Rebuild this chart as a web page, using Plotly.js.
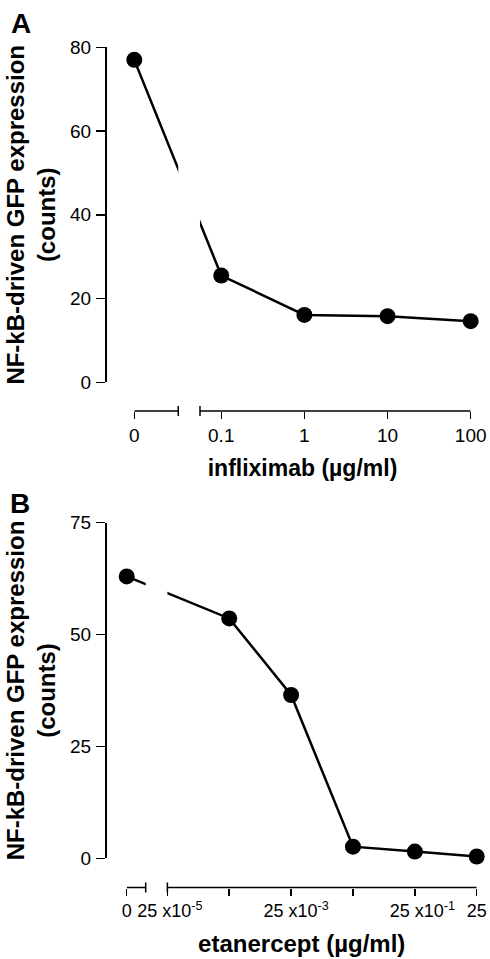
<!DOCTYPE html>
<html>
<head>
<meta charset="utf-8">
<script src="https://cdn.plot.ly/plotly-3.0.1.min.js"></script>
<style>html,body{margin:0;padding:0;background:#fff;}</style>
</head>
<body>
<div id="chart" style="width:490px;height:959px;"></div>
<script>
// ---- Data ----
const infliximabConc = [0, 0.1, 1, 10, 100];          // µg/ml
const infliximabGFP  = [77, 25.5, 16.1, 15.8, 14.6];  // counts
const etanerceptConc = [0, 0.0025, 0.025, 0.25, 2.5, 25]; // µg/ml
const etanerceptGFP  = [63, 53.6, 36.5, 2.6, 1.5, 0.4];   // counts

// tick labels
const tickValsA = [0, 0.1, 1, 10, 100];
const tickTextA = ["0", "0.1", "1", "10", "100"];
const tickValsB = [0, 0.00025, 0.025, 2.5, 25];
const tickTextB = ["0", "\u00a025 x10<sup>-5</sup>", "\u00a0\u00a025 x10<sup>-3</sup>", "\u00a0\u00a0\u00a025 x10<sup>-1</sup>", "25"];
const minorTickValsB = [0.0025, 0.25];
const yTicksA = [0, 20, 40, 60, 80];
const yTicksB = [0, 25, 50, 75];

// placement of the "0" concentration and of the breaks on the broken log axes
const ZERO_POS_A = 0.009;
const ZERO_POS_B = 0.000055;
const BREAK_A = [0.0304, 0.0555];
const BREAK_B = [0.0001115, 0.00025];

const place = (c, z) => c.map(v => v === 0 ? z : v);

const lineStyle = {color: "black", width: 2.5};
const markerStyle = {color: "black", size: 16};

const traces = [
  {x: place(infliximabConc, ZERO_POS_A), y: infliximabGFP, xaxis: "x", yaxis: "y",
   mode: "lines+markers", line: lineStyle, marker: markerStyle, cliponaxis: false, hoverinfo: "skip"},
  {x: place(etanerceptConc, ZERO_POS_B), y: etanerceptGFP, xaxis: "x2", yaxis: "y2",
   mode: "lines+markers", line: lineStyle, marker: markerStyle, cliponaxis: false, hoverinfo: "skip"}
];

const H = 959, W = 490;
const py = p => 1 - p / H;   // pixel row -> paper y
const FONT = "Liberation Sans, Arial, Helvetica, sans-serif";

const xCommon = {
  type: "log", anchor: "free", showline: false, showgrid: false, zeroline: false, automargin: false,
  ticks: "outside", ticklen: 7, tickwidth: 1.5, tickcolor: "black", tickangle: 0,
  tickfont: {size: 19, family: FONT, color: "black"}
};
const yCommon = {
  anchor: "free", position: 105 / W, showline: true, linewidth: 1.5, linecolor: "black", automargin: false,
  showgrid: false, zeroline: false, ticks: "outside", ticklen: 9, tickwidth: 1.5, tickcolor: "black",
  tickfont: {size: 19, family: FONT, color: "black"}, ticklabelstandoff: 1
};
const yTitle = {text: "NF-kB-driven GFP expression<br>(counts)", standoff: 6,
                font: {size: 24, family: FONT, weight: "bold", color: "black"}};

function brokenAxis(xref, z, brk, end, yPix) {
  const y = py(yPix);
  const seg = {color: "black", width: 1.5};
  return [
    {type: "line", xref: xref, yref: "paper", x0: z, x1: brk[0], y0: y, y1: y, line: seg},
    {type: "line", xref: xref, yref: "paper", x0: brk[1], x1: end, y0: y, y1: y, line: seg},
    {type: "line", xref: xref, yref: "paper", x0: brk[0], x1: brk[0], y0: py(yPix - 5), y1: py(yPix + 5), line: seg},
    {type: "line", xref: xref, yref: "paper", x0: brk[1], x1: brk[1], y0: py(yPix - 5), y1: py(yPix + 5), line: seg}
  ];
}

const layout = {
  width: W, height: H, margin: {l: 0, r: 0, t: 0, b: 0, autoexpand: false},
  paper_bgcolor: "white", plot_bgcolor: "rgba(0,0,0,0)", showlegend: false,
  font: {family: FONT, color: "black", size: 19},
  xaxis: Object.assign({}, xCommon, {
    domain: [134.3 / W, 470.7 / W], range: [Math.log10(ZERO_POS_A), 2], position: py(411),
    tickvals: place(tickValsA, ZERO_POS_A), ticktext: tickTextA,
    title: {text: "infliximab (µg/ml)", standoff: 15, font: {size: 23, family: FONT, weight: "bold", color: "black"}}
  }),
  yaxis: Object.assign({}, yCommon, {
    domain: [py(382.3), py(47.3)], range: [0, 80], tickvals: yTicksA, title: yTitle
  }),
  xaxis2: Object.assign({}, xCommon, {
    domain: [126.7 / W, 476.7 / W], range: [Math.log10(ZERO_POS_B), Math.log10(25)], position: py(887.5),
    tickvals: place(tickValsB, ZERO_POS_B), ticktext: tickTextB,
    tickfont: {size: 18, family: FONT, color: "black"},
    minor: {tickmode: "array", tickvals: minorTickValsB, ticks: "outside", ticklen: 7, tickwidth: 1.5, tickcolor: "black", showgrid: false},
    title: {text: "etanercept (µg/ml)", standoff: 15, font: {size: 24, family: FONT, weight: "bold", color: "black"}}
  }),
  yaxis2: Object.assign({}, yCommon, {
    domain: [py(858.3), py(522.7)], range: [0, 75], tickvals: yTicksB, title: yTitle
  }),
  shapes: [
    {type: "rect", xref: "x", yref: "paper", x0: BREAK_A[0], x1: BREAK_A[1], y0: py(382.3), y1: py(40),
     fillcolor: "white", line: {width: 0}, layer: "above"},
    {type: "rect", xref: "x2", yref: "paper", x0: BREAK_B[0], x1: BREAK_B[1], y0: py(858.3), y1: py(515),
     fillcolor: "white", line: {width: 0}, layer: "above"}
  ].concat(brokenAxis("x", ZERO_POS_A, BREAK_A, 100, 411))
   .concat(brokenAxis("x2", ZERO_POS_B, BREAK_B, 25, 887.5)),
  annotations: [
    {text: "<b>A</b>", xref: "paper", yref: "paper", x: 21 / W, y: py(23.3), xanchor: "center", yanchor: "middle",
     showarrow: false, font: {size: 28, family: FONT, color: "black"}},
    {text: "<b>B</b>", xref: "paper", yref: "paper", x: 20 / W, y: py(503.3), xanchor: "center", yanchor: "middle",
     showarrow: false, font: {size: 28, family: FONT, color: "black"}}
  ]
};

Plotly.newPlot("chart", traces, layout, {staticPlot: true, displayModeBar: false});
</script>
</body>
</html>
